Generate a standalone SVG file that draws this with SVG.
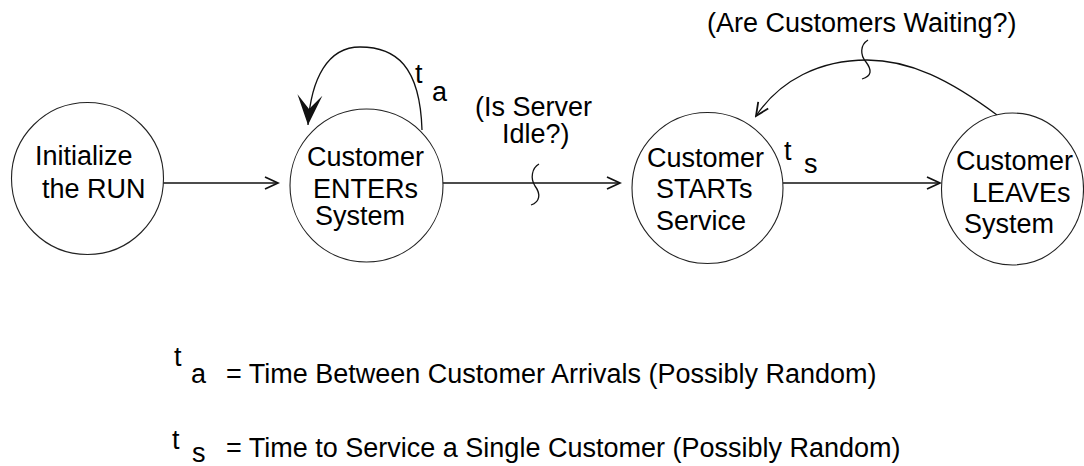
<svg xmlns="http://www.w3.org/2000/svg" width="1084" height="466" viewBox="0 0 1084 466">
  <style>
    text { font-family: "Liberation Sans", Arial, sans-serif; font-size: 27px; fill: #000; }
    .node { fill: #fff; stroke: #222; stroke-width: 1.1; }
    .edge { fill: none; stroke: #111; stroke-width: 1.3; }
  </style>
  <defs>
    <!-- open chevron arrowhead -->
    <marker id="open" markerUnits="userSpaceOnUse" markerWidth="16" markerHeight="16" viewBox="0 0 16 14" refX="14" refY="6.5" orient="auto">
      <path d="M1,0.5 L14,6.5 L1,12.5" fill="none" stroke="#111" stroke-width="1.8"/>
    </marker>
    <!-- solid notched arrowhead -->
    <marker id="bold" markerUnits="userSpaceOnUse" markerWidth="32" markerHeight="28" viewBox="0 0 32 26" refX="30" refY="13" orient="auto">
      <path d="M0,0.5 L30,13 L0,25.5 L14,13 Z" fill="#111"/>
    </marker>
  </defs>

  <rect width="1084" height="466" fill="#fff"/>

  <g id="connectors">
    <line class="edge" x1="163" y1="183" x2="278" y2="183" marker-end="url(#open)"/>
    <line class="edge" x1="442" y1="183" x2="620" y2="183" marker-end="url(#open)"/>
    <line class="edge" x1="783" y1="183" x2="940" y2="183" marker-end="url(#open)"/>
    <!-- self loop on arrival event -->
    <path class="edge" d="M422,130 C420,66 396,47 360,47 C328,47 311,78 308,125" marker-end="url(#bold)"/>
    <!-- return arc from departure to service start -->
    <path class="edge" d="M997,115 C950,80 910,60 867,60 C820,60 780,80 756,116" marker-end="url(#open)"/>
    <!-- condition squiggles -->
    <path class="edge" d="M539,164 C532,168 530,178 535,186 C541,194 540,202 531,205"/>
    <path class="edge" d="M868,40 C860,45 860,55 866,62 C872,70 872,76 862,79"/>
  </g>

  <g id="init">
    <circle class="node" cx="87.5" cy="178.5" r="76"/>
    <text x="35" y="165">Initialize</text>
    <text x="42" y="198">the RUN</text>
  </g>

  <g id="enter">
    <circle class="node" cx="366.5" cy="185.5" r="76.5"/>
    <text x="307" y="166">Customer</text>
    <text x="313" y="198">ENTERs</text>
    <text x="315" y="225">System</text>
  </g>

  <g id="start">
    <circle class="node" cx="707.5" cy="188" r="75.5"/>
    <text x="647" y="167">Customer</text>
    <text x="656" y="198">STARTs</text>
    <text x="656" y="230">Service</text>
  </g>

  <g id="leave">
    <ellipse class="node" cx="1012.5" cy="189" rx="71" ry="76"/>
    <text x="956" y="170">Customer</text>
    <text x="972" y="202">LEAVEs</text>
    <text x="964" y="233">System</text>
  </g>

  <g id="labels">
    <text x="415" y="83">t</text>
    <text x="432" y="101">a</text>
    <text x="475" y="116">(Is Server</text>
    <text x="502" y="143">Idle?)</text>
    <text x="784" y="160">t</text>
    <text x="804" y="173">s</text>
    <text x="707" y="32">(Are Customers Waiting?)</text>
  </g>

  <g id="legend">
    <text x="174" y="366">t</text>
    <text x="191" y="383">a</text>
    <text x="226" y="383">= Time Between Customer Arrivals (Possibly Random)</text>
    <text x="172" y="449">t</text>
    <text x="192" y="462">s</text>
    <text x="226" y="457">= Time to Service a Single Customer (Possibly Random)</text>
  </g>
</svg>
